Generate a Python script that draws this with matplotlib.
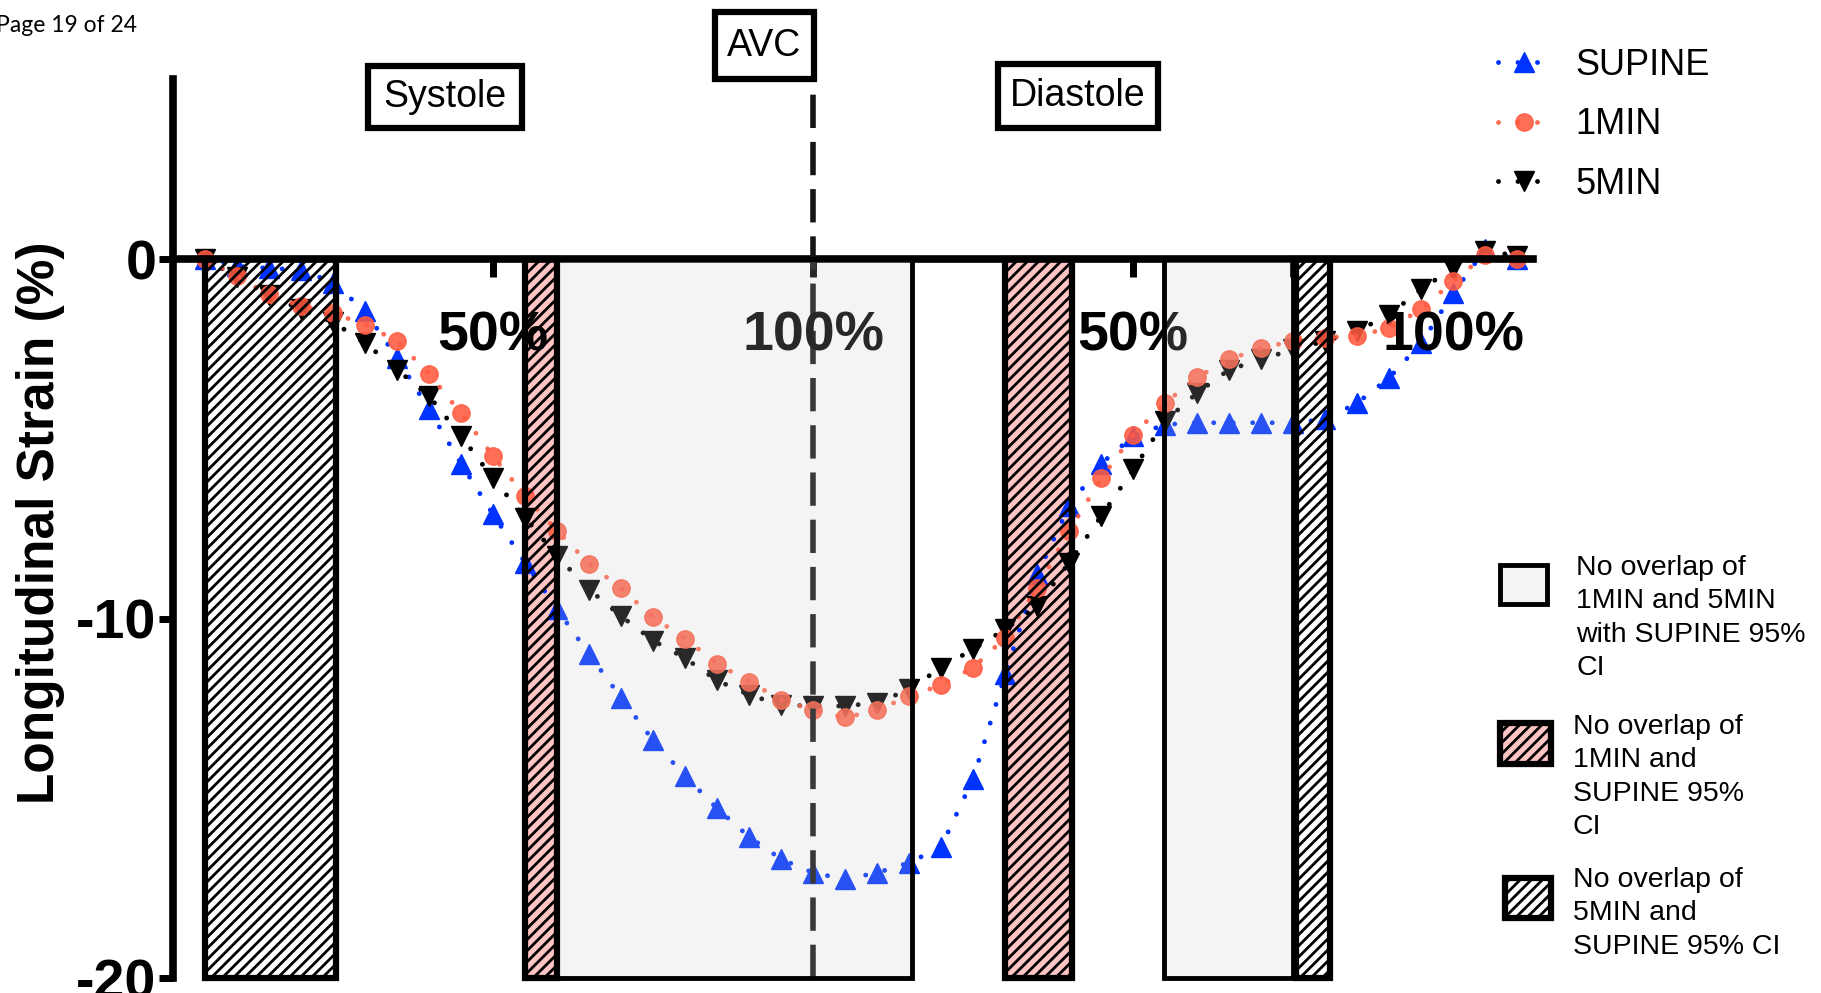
"""
Longitudinal strain curves (SUPINE / 1MIN / 5MIN) across systole and diastole,
with shaded regions where the 95% CIs do not overlap.
"""

import matplotlib
matplotlib.use('Agg')
import numpy as np
import matplotlib.pyplot as plt
from matplotlib.patches import Rectangle

plt.rcParams['font.family'] = ['Liberation Sans', 'DejaVu Sans']
plt.rcParams['axes.unicode_minus'] = False
plt.rcParams['hatch.linewidth'] = 2.0

# frame index: 1..20 systole (5% steps), 21..42 diastole
frame = np.arange(1, 43)

supine = [0, -0.2, -0.25, -0.3, -0.65, -1.45, -2.74, -4.18, -5.69, -7.10,
          -8.44, -9.74, -10.99, -12.2, -13.39, -14.38, -15.28, -16.07, -16.69, -17.07,
          -17.25, -17.07, -16.79, -16.35, -14.45, -11.55, -8.77, -6.87, -5.69, -4.92,
          -4.6, -4.55, -4.55, -4.55, -4.55, -4.46, -4.0, -3.3, -2.33, -0.94,
          0.27, 0]
one_min = [0, -0.47, -0.98, -1.31, -1.5, -1.82, -2.28, -3.19, -4.29, -5.48,
           -6.59, -7.56, -8.47, -9.16, -9.96, -10.56, -11.25, -11.76, -12.25, -12.55,
           -12.75, -12.55, -12.15, -11.85, -11.36, -10.53, -9.14, -7.56, -6.10, -4.88,
           -4.0, -3.28, -2.79, -2.47, -2.28, -2.18, -2.14, -1.91, -1.4, -0.61,
           0.11, 0]
five_min = [0, -0.5, -1.0, -1.4, -1.75, -2.33, -3.07, -3.81, -4.92, -6.10,
            -7.19, -8.26, -9.19, -9.93, -10.61, -11.1, -11.72, -12.12, -12.4, -12.43,
            -12.43, -12.34, -11.97, -11.36, -10.85, -10.3, -9.65, -8.44, -7.15, -5.85,
            -4.5, -3.72, -3.07, -2.79, -2.51, -2.28, -2.0, -1.54, -0.84, -0.24,
            0.22, 0.1]

# regions with no CI overlap
region_start = [1.0, 11.0, 12.0, 26.0, 30.95, 35.1]
region_end = [5.1, 12.0, 23.1, 28.1, 35.0, 36.15]
region_kind = ['5MIN', '1MIN', 'BOTH', '1MIN', 'BOTH', '5MIN']

xtick_pos = [10, 20, 30, 40]
xtick_labels = ['50%', '100%', '50%', '100%']
ytick_pos = [-20, -10, 0]
ytick_labels = ['-20', '-10', '0']
avc_frame = 20

W, H = 1821, 993

fig = plt.figure(figsize=(W / 100, H / 100), dpi=100)
ax = fig.add_axes([0.095, 0.015, 0.747, 0.905])
ax.set_xlim(0, 42.5)
ax.set_ylim(-20, 5)

# series
dot = (0, (0.01, 4))
l_sup, = ax.plot(frame, supine, color='#0033FF', ls=dot, lw=3.5,
                 dash_capstyle='round', marker='^', ms=14, zorder=2,
                 clip_on=False)
l_5, = ax.plot(frame, five_min, color='black', ls=dot, lw=3.5,
               dash_capstyle='round', marker='v', ms=14, zorder=2.1,
               clip_on=False)
l_1, = ax.plot(frame, one_min, color='#FF5A40', ls=dot, lw=3.5,
               dash_capstyle='round', marker='o', ms=12.5, alpha=0.88,
               zorder=2.2, clip_on=False)

# shaded regions
for s, e, kind in zip(region_start, region_end, region_kind):
    if kind == 'BOTH':
        ax.add_patch(Rectangle((s, -20), e - s, 20, fc=(0.8, 0.8, 0.8, 0.2),
                               ec='black', lw=3.5, zorder=4, clip_on=False))
    else:
        face = '#FFC4C4' if kind == '1MIN' else 'white'
        ax.add_patch(Rectangle((s, -20), e - s, 20, fc=face, ec='none',
                               zorder=1, clip_on=False))
        ax.add_patch(Rectangle((s, -20), e - s, 20, fc='none', ec='black',
                               hatch='///', lw=4.5, zorder=4, clip_on=False))

# AVC dashed line
ax.plot([avc_frame, avc_frame], [-20, 5], color='#151515', lw=4,
        dashes=(6, 2.5), zorder=3, clip_on=False)

# axes styling
for side in ['top', 'right']:
    ax.spines[side].set_visible(False)
ax.spines['bottom'].set_position(('data', 0))
ax.spines['bottom'].set_linewidth(5.5)
ax.spines['left'].set_linewidth(5.5)
ax.set_yticks(ytick_pos)
ax.set_yticklabels(ytick_labels, fontsize=40, fontweight='bold')
ax.tick_params(axis='y', length=10, width=5, pad=2)
ax.set_xticks(xtick_pos)
ax.set_xticks([35], minor=True)
ax.tick_params(axis='x', which='both', length=13, width=5, labelbottom=False)
for x, lab in zip(xtick_pos, xtick_labels):
    ax.text(x, -2.15, lab, ha='center', va='center', fontsize=40,
            fontweight='bold', zorder=3)

fig.text(0.022, 0.474, 'Longitudinal Strain (%)', rotation=90, ha='center',
         va='center', fontsize=37, fontweight='bold')

fig.text(-0.002, 0.974, 'Page 19 of 24', ha='left', va='center',
         fontsize=16.5, family=['Lato', 'DejaVu Sans'])


def label_box(x0, y0, x1, y1, text):
    fig.add_artist(Rectangle((x0 / W, 1 - y1 / H), (x1 - x0) / W, (y1 - y0) / H,
                             transform=fig.transFigure, fc='white', ec='black',
                             lw=4.5))
    fig.text((x0 + x1) / 2 / W, 1 - (y0 + y1) / 2 / H, text, ha='center',
             va='center', fontsize=27)


label_box(368, 66, 522, 128, 'Systole')
label_box(715, 12, 814, 79, 'AVC')
label_box(998, 64, 1158, 128, 'Diastole')

# series legend
ax.legend([l_sup, l_1, l_5], ['SUPINE', '1MIN', '5MIN'], loc='upper left',
          bbox_to_anchor=(0.8225, 0.952), bbox_transform=fig.transFigure,
          frameon=False, fontsize=26, handlelength=1.45, handletextpad=0.7,
          labelspacing=0.68, borderpad=0, borderaxespad=0, numpoints=1)

# region legend
key_boxes = [
    ((1500, 565, 1547, 604), '#F4F4F4', None, 3.5),
    ((1500, 723, 1551, 764), '#FFC4C4', '///', 4.5),
    ((1505, 878, 1551, 918), 'white', '///', 4.5),
]
key_texts = [
    (1576, 555, 'No overlap of\n1MIN and 5MIN\nwith SUPINE 95%\nCI'),
    (1573, 714, 'No overlap of\n1MIN and\nSUPINE 95%\nCI'),
    (1573, 867, 'No overlap of\n5MIN and\nSUPINE 95% CI'),
]
for (x0, y0, x1, y1), fc, hatch, lw in key_boxes:
    fig.add_artist(Rectangle((x0 / W, 1 - y1 / H), (x1 - x0) / W, (y1 - y0) / H,
                             transform=fig.transFigure, fc=fc, ec='black',
                             hatch=hatch, lw=lw))
for x, y, txt in key_texts:
    fig.text(x / W, 1 - y / H, txt, ha='left', va='top', fontsize=20.5,
             linespacing=1.37)

fig.savefig('out.png', dpi=100)
